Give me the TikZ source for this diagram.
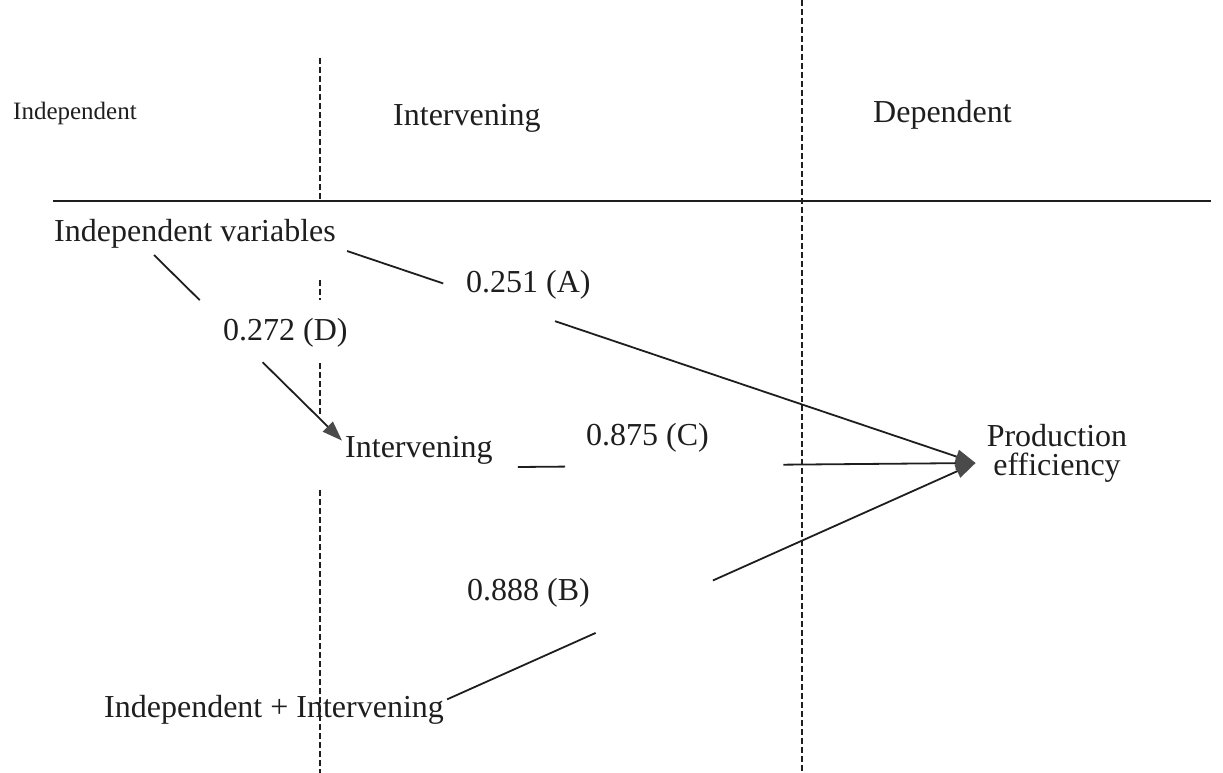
\documentclass[tikz,border=0pt]{standalone}
\usepackage{fontspec}
\setmainfont{Liberation Serif}
\usetikzlibrary{arrows.meta,calc}
\definecolor{ink}{HTML}{1E1E1E}
\definecolor{headfill}{HTML}{4A4A4A}
\begin{document}
\begin{tikzpicture}[x=1pt,y=-1pt,
  lbl/.style={anchor=base west,inner sep=3pt,text=ink,font=\fontsize{32}{29}\selectfont},
  link/.style={draw=ink,line width=1.8pt},
  tip/.style={-{Triangle[length=20pt,width=14pt,color=headfill]}},
  divider/.style={draw=ink,line width=1.2pt,dash pattern=on 6pt off 3pt}]
\useasboundingbox (0,0) rectangle (1223,773);
% column headings
\node[lbl,font=\fontsize{25}{30}\selectfont] (hind) at (10,120) {Independent};
\node[lbl] (hint) at (390,125) {Intervening};
\node[lbl] (hdep) at (870,123) {Dependent};
\draw[divider] (802,0) -- (802,773);
\foreach \a/\b in {58/200,280/300,363/415,490/773}
  \draw[divider] (320,\a) -- (320,\b);
\draw[link] (53,201) -- (1211,201);
% variables
\node[lbl] (indvar) at (51,241) {Independent variables};
\node[lbl] (interv) at (342,457) {Intervening};
\node[lbl] (indint) at (101,717) {Independent + Intervening};
\node[lbl,anchor=center,align=center] (prod) at (1057,453) {Production\\efficiency};
\coordinate (pin) at ([shift={(-8pt,-10pt)}]prod.west);
% path coefficients
\node[lbl] (pa) at (463,292) {0.251 (A)};
\node[lbl] (pd) at (220,340) {0.272 (D)};
\node[lbl] (pc) at (583,445) {0.875 (C)};
\node[lbl] (pb) at (464,600) {0.888 (B)};
% broken links, gap left for the coefficient
\coordinate (a0) at ([xshift=8pt]indvar.south east);
\draw[link] (a0) -- ($(a0)!.153!(pin)$);
\draw[link,tip] ($(a0)!.331!(pin)$) -- (pin);
\coordinate (d0) at ([shift={(-41pt,-4pt)}]indvar.south);
\coordinate (d1) at ([yshift=-8pt]interv.north west);
\draw[link] (d0) -- ($(d0)!.243!(d1)$);
\draw[link,tip] ($(d0)!.578!(d1)$) -- (d1);
\coordinate (c0) at ([shift={(22pt,-10pt)}]interv.base east);
\draw[link] (c0) -- ($(c0)!.103!(pin)$);
\draw[link,tip] ($(c0)!.58!(pin)$) -- (pin);
\coordinate (b0) at ([yshift=10pt]indint.east);
\draw[link] (b0) -- ($(b0)!.281!(pin)$);
\draw[link,tip] ($(b0)!.503!(pin)$) -- (pin);
\end{tikzpicture}
\end{document}
